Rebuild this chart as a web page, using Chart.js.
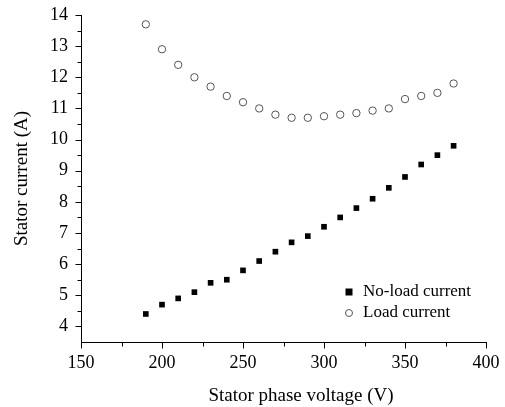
<!DOCTYPE html>
<html><head><meta charset="utf-8">
<script src="https://cdn.jsdelivr.net/npm/chart.js@4.4.1/dist/chart.umd.min.js"></script>
<style>html,body{margin:0;padding:0;background:#fff}#wrap{width:505px;height:407px}</style>
</head><body><div id="wrap"><canvas id="c" width="505" height="407"></canvas></div>
<script>
const voltages = [190,200,210,220,230,240,250,260,270,280,290,300,310,320,330,340,350,360,370,380];
const noLoadCurrent = [4.4,4.7,4.9,5.1,5.4,5.5,5.8,6.1,6.4,6.7,6.9,7.2,7.5,7.8,8.1,8.45,8.8,9.2,9.5,9.8];
const loadCurrent = [13.7,12.9,12.4,12.0,11.7,11.4,11.2,11.0,10.8,10.7,10.7,10.75,10.8,10.85,10.93,11.0,11.3,11.4,11.5,11.8];
const seriesNames = ["No-load current","Load current"];
const xTitle = "Stator phase voltage (V)";
const yTitle = "Stator current (A)";

const FONT = "'Liberation Serif','Times New Roman',serif";

const tickPlugin = {
  id:'ticks',
  afterDraw(chart){
    const ctx = chart.ctx, xs = chart.scales.x, ys = chart.scales.y;
    const a = chart.chartArea;
    ctx.save();
    ctx.strokeStyle = '#000'; ctx.lineWidth = 1;
    ctx.beginPath();
    const ax = Math.round(a.left)+0.5, ay = Math.round(a.bottom)+0.5;
    ctx.moveTo(ax, Math.round(ys.getPixelForValue(14))); ctx.lineTo(ax, ay); ctx.lineTo(Math.round(xs.getPixelForValue(400))+1, ay);
    for (let v=150; v<=400; v+=25){
      const px = Math.round(xs.getPixelForValue(v))+0.5;
      const len = (v%50===0)?6:4;
      ctx.moveTo(px, ay); ctx.lineTo(px, ay+len);
    }
    for (let v=4; v<=14; v+=0.5){
      const py = Math.round(ys.getPixelForValue(v))+0.5;
      const len = (v%1===0)?6:4;
      ctx.moveTo(ax, py); ctx.lineTo(ax-len, py);
    }
    ctx.stroke();
    // x title (offset right as in the reference)
    ctx.fillStyle = '#000';
    ctx.font = "19px "+FONT; ctx.textBaseline = 'middle'; ctx.textAlign='center';
    ctx.fillText(xTitle, 301, 396);
    // legend
    const lx = 349, ly1 = 292, ly2 = 313;
    ctx.fillRect(lx-3.5, ly1-3.5, 7, 7);
    ctx.beginPath(); ctx.arc(lx, ly2, 3.5, 0, Math.PI*2);
    ctx.strokeStyle = '#555'; ctx.stroke();
    ctx.font = "17px "+FONT; ctx.textBaseline = 'middle'; ctx.textAlign='left';
    ctx.fillText(seriesNames[0], lx+14, ly1);
    ctx.fillText(seriesNames[1], lx+14, ly2);
    ctx.restore();
  }
};

new Chart(document.getElementById('c'), {
  type:'scatter',
  data:{
    datasets:[
      {label:seriesNames[0], data:voltages.map((v,i)=>({x:v,y:noLoadCurrent[i]})),
       pointStyle:'rect', pointRadius:4, backgroundColor:'#000', borderColor:'#000', borderWidth:0, showLine:false},
      {label:seriesNames[1], data:voltages.map((v,i)=>({x:v,y:loadCurrent[i]})),
       pointStyle:'circle', pointRadius:3.7, backgroundColor:'rgba(0,0,0,0)', borderColor:'#555', borderWidth:1, showLine:false}
    ]
  },
  options:{
    responsive:false, animation:false, devicePixelRatio:1,
    layout:{padding:{top:15,right:19,left:0,bottom:0}},
    plugins:{legend:{display:false}, tooltip:{enabled:false}},
    scales:{
      x:{type:'linear', min:150, max:400,
         grid:{display:false, drawTicks:false}, border:{display:false},
         ticks:{stepSize:25, autoSkip:false, maxRotation:0, padding:10, color:'#000',
                font:{family:FONT, size:18},
                callback:(v)=> (v%50===0)? String(v) : ''},
         title:{display:false, text:xTitle},
         afterFit(s){ s.height = 65; s.paddingLeft = 0; s.paddingRight = 0; }
      },
      y:{type:'linear', min:3.5, max:14,
         grid:{display:false, drawTicks:false}, border:{display:false},
         ticks:{stepSize:0.5, autoSkip:false, padding:13, color:'#000',
                font:{family:FONT, size:18},
                callback:(v)=> (Math.abs(v-Math.round(v))<1e-6)? String(Math.round(v)) : ''},
         title:{display:true, text:yTitle, color:'#000', font:{family:FONT,size:19}, padding:{top:11,bottom:0}},
         afterFit(s){ s.width = 81; s.paddingTop = 0; s.paddingBottom = 0; }
      }
    }
  },
  plugins:[tickPlugin]
});
</script></body></html>
